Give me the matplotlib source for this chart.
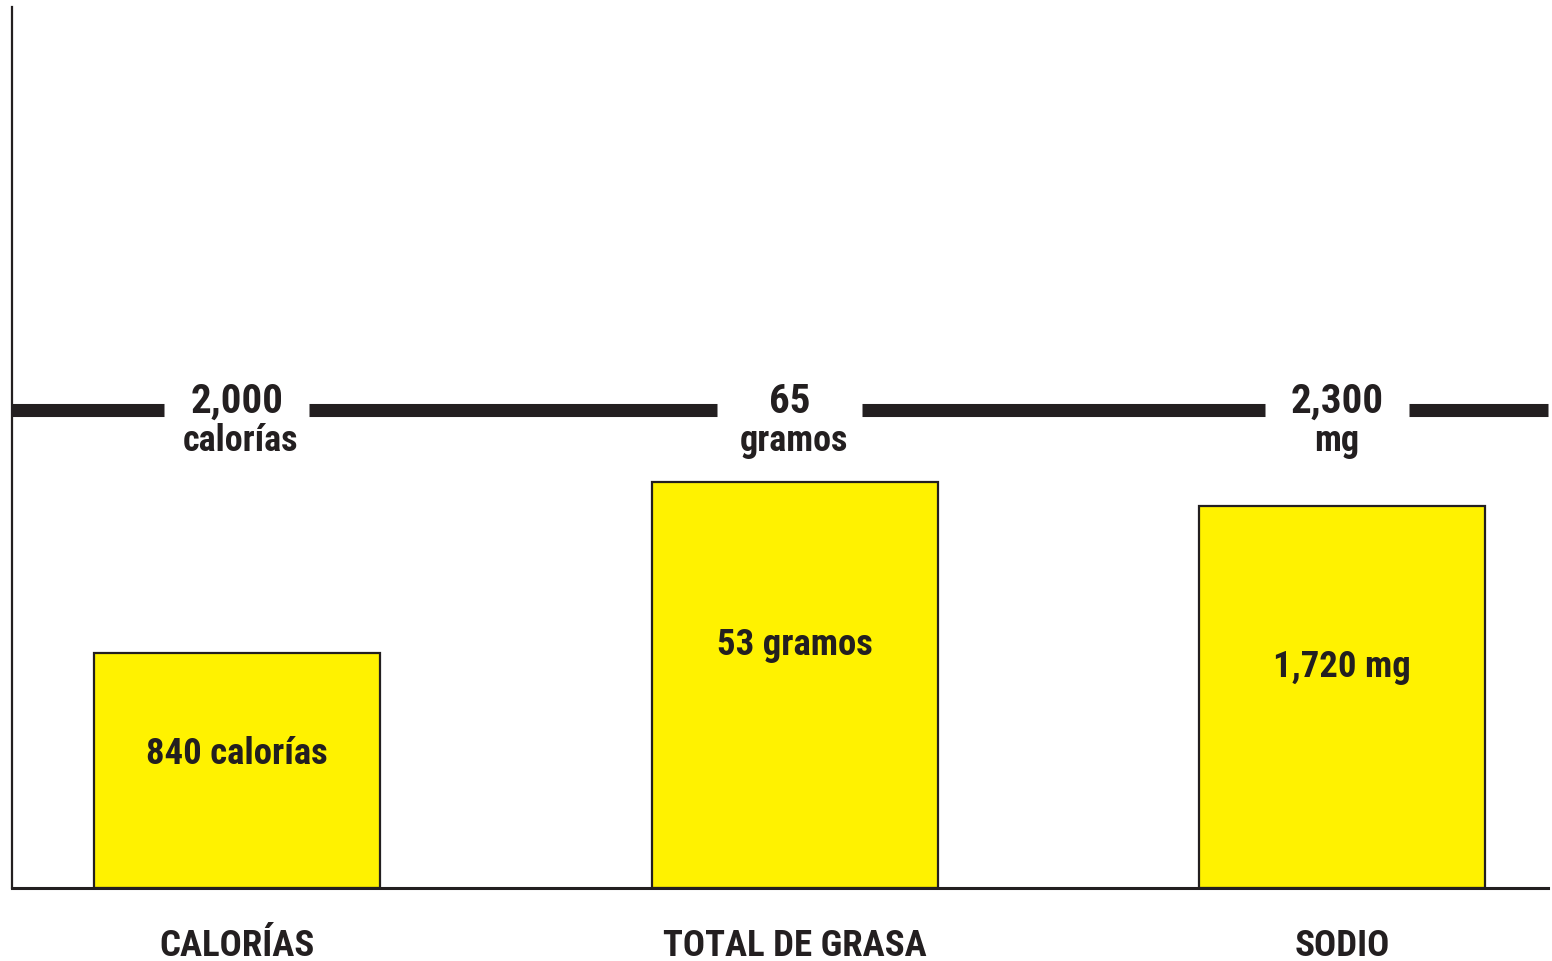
import matplotlib
matplotlib.use("Agg")
import matplotlib.pyplot as plt
from matplotlib import font_manager as fm
import numpy as np

# ---- data ----
categories = ["CALORÍAS", "TOTAL DE GRASA", "SODIO"]
bar_labels = ["840 calorías", "53 gramos", "1,720 mg"]
bar_heights = [49.2, 84.9, 79.9]          # height as drawn (percent of the daily-limit line)
limit_values = ["2,000", "65", "2,300"]
limit_units = ["calorías", "gramos", "mg"]
limit_level = 100

names = {f.name for f in fm.fontManager.ttflist}
fam = "Roboto Condensed" if "Roboto Condensed" in names else "DejaVu Sans"
plt.rcParams["font.family"] = [fam, "DejaVu Sans"]

ink = "#231f20"
yellow = "#fff200"

fig = plt.figure(figsize=(15.52, 9.62), dpi=100)
W, H = 1552, 962
ax = fig.add_axes([12 / W, (H - 889) / H, (1548 - 12) / W, (889 - 8) / H])

x = np.arange(len(categories))
bar_x = x + np.array([0.0, 0.01, 0.0])     # layout nudges
gap_x = x + np.array([0.0, 0.0, -0.009])
ax.set_xlim(-0.407, 2.373)
ax.set_ylim(0, 184.3)

ax.bar(bar_x, bar_heights, width=0.518, color=yellow, edgecolor=ink, linewidth=1.6, zorder=2)

# limit line with gaps around labels
gap = 0.131
xs = [-0.407]
for xi in gap_x:
    xs += [xi - gap, xi + gap]
xs.append(2.373)
for a, b in zip(xs[0::2], xs[1::2]):
    ax.plot([a, b], [limit_level, limit_level], color=ink, lw=9.4,
            solid_capstyle="butt", zorder=3, clip_on=False)

unit_x = gap_x + np.array([0.006, 0.009, 0.0])
for xi, ux, v, u in zip(gap_x, unit_x, limit_values, limit_units):
    ax.text(xi, 99.6, v, ha="center", va="baseline", fontsize=29.5,
            fontweight="bold", color=ink)
    ax.text(ux, 91.6, u, ha="center", va="baseline", fontsize=26,
            fontweight="bold", color=ink)

label_y = [28.2, 51.0, 46.4]
for xi, lab, ly in zip(bar_x, bar_labels, label_y):
    ax.text(xi, ly, lab, ha="center", va="center", fontsize=26.5,
            fontweight="bold", color=ink, zorder=4)

for xi, c in zip(bar_x, categories):
    ax.text(xi, -14.0, c, ha="center", va="baseline", fontsize=26.6,
            fontweight="bold", color=ink, clip_on=False)

for s in ["top", "right"]:
    ax.spines[s].set_visible(False)
ax.spines["left"].set_linewidth(1.6)
ax.spines["bottom"].set_linewidth(2.2)
ax.spines["left"].set_color(ink)
ax.spines["bottom"].set_color(ink)
ax.set_xticks([])
ax.set_yticks([])

fig.savefig("out.png", dpi=100)
